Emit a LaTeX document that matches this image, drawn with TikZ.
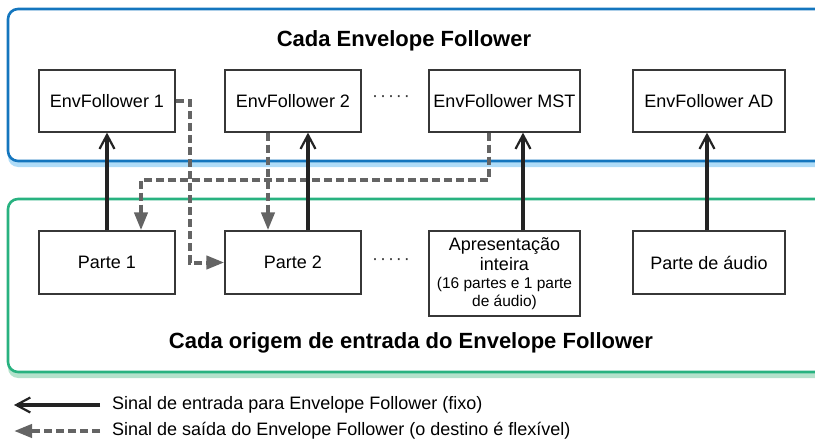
\documentclass[tikz,border=0pt]{standalone}
\usepackage{fontspec}
\setmainfont{Liberation Sans}
\usetikzlibrary{arrows.meta}
\definecolor{cblue}{RGB}{20,118,190}
\definecolor{cblueS}{RGB}{175,220,248}
\definecolor{cgreen}{RGB}{40,178,128}
\definecolor{cgreenS}{RGB}{180,226,204}
\definecolor{boxline}{RGB}{55,55,55}
\definecolor{dgray}{RGB}{100,100,100}
\definecolor{solidc}{RGB}{35,35,35}
\newcommand{\smallfnt}{\fontsize{15.5}{17}\selectfont}
\begin{document}
\begin{tikzpicture}[x=1pt,y=-1pt,
  box/.style={draw=boxline, line width=1.3pt, fill=white, minimum height=62pt,
    inner sep=0pt, font=\fontsize{18}{21}\selectfont, align=center},
  inarrow/.style={draw=solidc, line width=4pt,
    -{Straight Barb[length=14pt,width=15pt,line width=2.2pt]}},
  outarrow/.style={draw=dgray, line width=4pt, dash pattern=on 8pt off 4pt,
    -{Triangle[length=18pt,width=13pt]}},
  title/.style={font=\fontsize{22}{26}\selectfont\bfseries},
  legtext/.style={anchor=west, font=\fontsize{18}{21}\selectfont, inner sep=0pt},
  dotsty/.style={font=\fontsize{18}{21}\selectfont, inner sep=0pt, text=boxline}]
\useasboundingbox (0,0) rectangle (815,444);
\begin{scope}
\clip (0,0) rectangle (815,444);
% containers
\fill[cblueS, rounded corners=10pt] (8,15) rectangle (840,167);
\draw[cblue, line width=2.6pt, fill=white, rounded corners=10pt] (8,9) rectangle (840,161);
\fill[cgreenS, rounded corners=10pt] (8,205) rectangle (840,378);
\draw[cgreen, line width=2.6pt, fill=white, rounded corners=10pt] (8,199) rectangle (840,372);
\end{scope}

\node[title] (t1) at (404,41) {Cada Envelope Follower};
\node[title] (t2) at (411,343) {Cada origem de entrada do Envelope Follower};

% top row
\node[box, minimum width=136pt] (EF1) at (107,101) {EnvFollower 1};
\node[box, minimum width=136pt] (EF2) at (293,101) {EnvFollower 2};
\node[box, minimum width=151pt] (MST) at (504.5,101) {EnvFollower MST};
\node[box, minimum width=152pt] (AD) at (709,101) {EnvFollower AD};
% bottom row
\node[box, minimum width=136pt, minimum height=63pt] (P1) at (107,262.5) {Parte 1};
\node[box, minimum width=136pt, minimum height=63pt] (P2) at (293,262.5) {Parte 2};
\node[box, minimum width=151pt, minimum height=85pt] (AP) at (504.5,273.5)
  {Apresentação\\[-1pt] inteira\\[-3pt]
   \smallfnt (16 partes e 1 parte\\[-3pt] \smallfnt de áudio)};
\node[box, minimum width=152pt, minimum height=63pt] (PA) at (709,262.5) {Parte de áudio};

\node[dotsty] (d1) at (391,99) {·\kern2pt·\kern2pt·\kern2pt·\kern2pt·};
\node[dotsty] (d2) at (391,262) {·\kern2pt·\kern2pt·\kern2pt·\kern2pt·};

% output (dashed) signals
\draw[outarrow] ([xshift=-15.5pt]MST.south) -- ++(0,47) -| ([xshift=34pt]P1.north);
\draw[outarrow] ([xshift=-25pt]EF2.south) -- ([xshift=-25pt]P2.north);
\draw[outarrow] (EF1.east) -- ++(14,0) |- (P2.west);

% input (solid) signals
\draw[inarrow] (P1.north) -- (EF1.south);
\draw[inarrow] ([xshift=15pt]P2.north) -- ([xshift=15pt]EF2.south);
\draw[inarrow] ([xshift=18.5pt]AP.north) -- ([xshift=18.5pt]MST.south);
\draw[inarrow] ([xshift=-2pt]PA.north) -- ([xshift=-2pt]AD.south);

% legend
\coordinate (l1s) at (100,405);
\coordinate (l1e) at (14,405);
\coordinate (l2s) at (100,431);
\coordinate (l2e) at (14,431);
\draw[inarrow] (l1s) -- (l1e);
\draw[outarrow] (l2s) -- (l2e);
\node[legtext] (lt1) at (112,405) {Sinal de entrada para Envelope Follower (fixo)};
\node[legtext] (lt2) at (112,431) {Sinal de saída do Envelope Follower (o destino é flexível)};
\end{tikzpicture}
\end{document}
